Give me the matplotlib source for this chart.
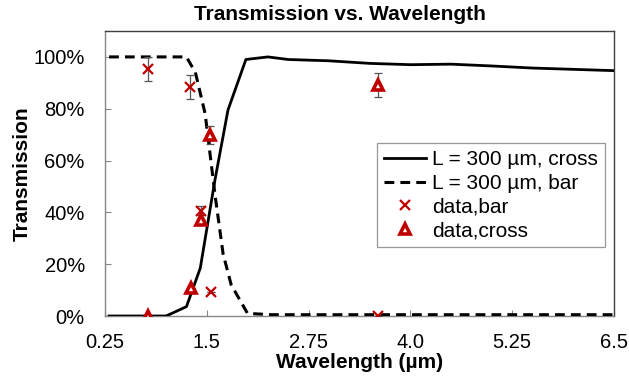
import matplotlib
matplotlib.use("Agg")
import matplotlib.pyplot as plt
from matplotlib.ticker import FuncFormatter

plt.rcParams['font.family'] = ['Liberation Sans', 'DejaVu Sans']

# Simulated curves (L = 300 um)
cross_x = [0.3, 1.0, 1.25, 1.42, 1.6, 1.76, 1.98, 2.25, 2.5, 3.0, 3.5, 4.0, 4.5, 5.0, 5.5, 6.0, 6.5]
cross_y = [0.0, 0.0, 0.036, 0.185, 0.525, 0.795, 0.99, 1.0, 0.99, 0.985, 0.975, 0.97, 0.972, 0.965, 0.957, 0.952, 0.947]

bar_x = [0.3, 1.25, 1.36, 1.48, 1.6, 1.7, 1.8, 2.0, 2.3, 6.5]
bar_y = [1.0, 1.0, 0.94, 0.78, 0.47, 0.24, 0.12, 0.01, 0.005, 0.005]

# Measured data
data_bar_x = [0.78, 1.29, 1.43, 1.55, 3.6]
data_bar_y = [0.953, 0.885, 0.407, 0.094, 0.0]
data_bar_err = [0.047, 0.046, 0.016, 0.0, 0.0]

data_cross_x = [0.78, 1.30, 1.43, 1.54, 3.6]
data_cross_y = [0.0, 0.107, 0.37, 0.699, 0.892]
data_cross_err = [0.0, 0.0, 0.0, 0.035, 0.046]

x_ticks = [0.25, 1.5, 2.75, 4.0, 5.25, 6.5]
x_tick_labels = ["0.25", "1.5", "2.75", "4.0", "5.25", "6.5"]
y_ticks = [0.0, 0.2, 0.4, 0.6, 0.8, 1.0]

fig = plt.figure(figsize=(6.29, 3.77), dpi=100)
ax = fig.add_axes([105/629, 1-316/377, (614-105)/629, (316-31)/377])

red = '#c00000'
ax.plot(cross_x, cross_y, color='black', lw=2.0, label='L = 300 µm, cross', zorder=3)
ax.plot(bar_x, bar_y, color='black', lw=2.2, dashes=(3.2, 2.0), label='L = 300 µm, bar', zorder=3)

ax.errorbar(data_bar_x, data_bar_y, yerr=data_bar_err, fmt='none', ecolor='#555555',
            elinewidth=0.9, capsize=3, capthick=0.9, zorder=4)
ax.errorbar(data_cross_x, data_cross_y, yerr=data_cross_err, fmt='none', ecolor='#555555',
            elinewidth=0.9, capsize=3, capthick=0.9, zorder=4)
ax.plot(data_bar_x, data_bar_y, linestyle='none', marker='x', color=red, ms=7, mew=1.6,
        label='data,bar', zorder=5)
ax.plot(data_cross_x, data_cross_y, linestyle='none', marker='^', mfc='white', mec=red,
        color=red, ms=6.5, mew=2.6, label='data,cross', zorder=5)

ax.set_xlim(0.25, 6.5)
ax.set_ylim(0, 1.1)
ax.set_xticks(x_ticks)
ax.set_xticklabels(x_tick_labels)
ax.set_yticks(y_ticks)
ax.yaxis.set_major_formatter(FuncFormatter(lambda v, p: f"{v*100:.0f}%"))
ax.tick_params(direction='in', length=4, color='#868686', labelsize=14.5)
ax.tick_params(axis='x', pad=12)
ax.tick_params(axis='y', pad=14.5)

for side in ['left', 'bottom']:
    ax.spines[side].set_color('#868686')
    ax.spines[side].set_linewidth(1.0)
for side in ['top', 'right']:
    ax.spines[side].set_color('#3f3f3f')
    ax.spines[side].set_linewidth(1.0)

fig.text(340/629, 1-15/377, 'Transmission vs. Wavelength', fontsize=15, fontweight='bold',
         ha='center', va='center')
ax.set_xlabel('Wavelength (µm)', fontsize=15, fontweight='bold')
ax.xaxis.set_label_coords(0.5, -(362-316)/285)
ax.xaxis.label.set_va('center')
ax.set_ylabel('Transmission', fontsize=15, fontweight='bold')
ax.yaxis.set_label_coords(-(105-22)/509, 0.5)
ax.yaxis.label.set_va('center')

leg = ax.legend(loc='upper left', bbox_to_anchor=((377-105)/509, (316-143)/285),
                fontsize=15, frameon=True, fancybox=False, borderaxespad=0,
                handlelength=2.0, handletextpad=0.3, borderpad=0.35, labelspacing=0.22)
leg.get_frame().set_edgecolor('#7f7f7f')
leg.get_frame().set_linewidth(0.9)

fig.savefig('out.png', dpi=100)
